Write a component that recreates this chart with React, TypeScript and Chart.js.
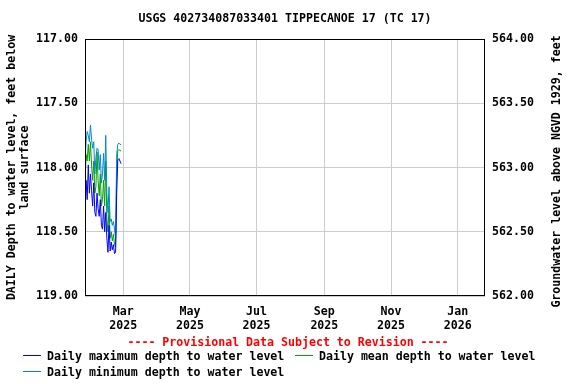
import React, { useEffect, useRef } from "react";
import { Chart, registerables } from "chart.js";

Chart.register(...registerables);

const startDate = "2025-01-25";
const endDate = "2026-01-26";

const dates = [
  "2025-01-25", "2025-01-26", "2025-01-27", "2025-01-28", "2025-01-29", "2025-01-30",
  "2025-01-31", "2025-02-01", "2025-02-02", "2025-02-03", "2025-02-04", "2025-02-05",
  "2025-02-06", "2025-02-07", "2025-02-08", "2025-02-09", "2025-02-10", "2025-02-11",
  "2025-02-12", "2025-02-13", "2025-02-14", "2025-02-15", "2025-02-16", "2025-02-17",
  "2025-02-18", "2025-02-19", "2025-02-20", "2025-02-21", "2025-02-22", "2025-02-23",
  "2025-02-24", "2025-02-25", "2025-02-26", "2025-02-27",
];

const dailyMax = [
  118.35, 118.1, 118.25, 117.98, 118.2, 118.05, 118.18, 118.3, 118.12, 118.35, 118.38, 118.2,
  118.32, 118.38, 118.25, 118.45, 118.48, 118.3, 118.5, 118.35, 118.55, 118.66, 118.45, 118.65,
  118.58, 118.64, 118.6, 118.67, 118.66, 118.2, 117.94, 117.93, 117.95, 117.97,
];

const dailyMean = [
  118.15, 117.9, 117.95, 117.82, 117.95, 117.8, 117.98, 118.1, 117.95, 118.2, 118.15, 117.88,
  118.1, 118.22, 118.05, 118.3, 118.25, 118.1, 118.3, 117.95, 118.4, 118.5, 118.3, 118.55,
  118.5, 118.57, 118.52, 118.6, 118.62, 118.0, 117.87, 117.86, 117.87, 117.87,
];

const dailyMin = [
  117.95, 117.8, 117.72, 117.75, 117.8, 117.67, 117.78, 117.85, 117.8, 118.05, 117.92, 117.85,
  117.86, 118.02, 117.9, 118.12, 118.05, 117.89, 118.1, 117.75, 118.2, 118.35, 118.15, 118.42,
  118.4, 118.45, 118.42, 118.48, 118.55, 117.9, 117.82, 117.81, 117.82, 117.82,
];

const tickDates = ["2025-03-01", "2025-05-01", "2025-07-01", "2025-09-01", "2025-11-01", "2026-01-01"];
const tickMonths = ["Mar", "May", "Jul", "Sep", "Nov", "Jan"];
const tickYears = ["2025", "2025", "2025", "2025", "2025", "2026"];

const depthMin = 117;
const depthMax = 119;
const elevMin = 562;
const elevMax = 564;

const titleText = "USGS 402734087033401 TIPPECANOE 17 (TC 17)";
const leftTitle1 = "DAILY Depth to water level, feet below";
const leftTitle2 = "land surface";
const rightTitle = "Groundwater level above NGVD 1929, feet";
const provisionalText = "---- Provisional Data Subject to Revision ----";
const legendLabels = [
  "Daily maximum depth to water level",
  "Daily mean depth to water level",
  "Daily minimum depth to water level",
];
const colorMax = "#0000ff";
const colorMean = "#00a000";
const colorMin = "#0088cc";

const FAMILY = "'DejaVu Sans Mono', monospace";
const FONT = "bold 11.6px " + FAMILY;

const dayOffset = (d: string) => (Date.parse(d) - Date.parse(startDate)) / 86400000;

export default function App() {
  const ref = useRef<HTMLCanvasElement | null>(null);

  useEffect(() => {
    document.body.style.margin = "0";
    const canvas = ref.current;
    if (!canvas) return;

    const xs = dates.map(dayOffset);
    const toPts = (arr: number[]) => arr.map((v, i) => ({ x: xs[i], y: v }));
    const tickVals = tickDates.map(dayOffset);

    const overlay = {
      id: "overlay",
      afterDraw(chart: any) {
        const ctx = chart.ctx as CanvasRenderingContext2D;
        const a = chart.chartArea;
        ctx.save();
        ctx.strokeStyle = "#000";
        ctx.lineWidth = 1;
        ctx.strokeRect(Math.round(a.left) + 0.5, Math.round(a.top) + 0.5, Math.round(a.right - a.left) - 1, Math.round(a.bottom - a.top) - 1);

        ctx.font = FONT;
        ctx.fillStyle = "#000";
        ctx.textBaseline = "middle";
        ctx.textAlign = "center";
        ctx.fillText(titleText, 285, 19);

        const cy = (a.top + a.bottom) / 2;
        ctx.save();
        ctx.translate(12, cy);
        ctx.rotate(-Math.PI / 2);
        ctx.fillText(leftTitle1, 0, 0);
        ctx.restore();
        ctx.save();
        ctx.translate(25, cy);
        ctx.rotate(-Math.PI / 2);
        ctx.fillText(leftTitle2, 0, 0);
        ctx.restore();
        ctx.save();
        ctx.translate(557, cy + 4);
        ctx.rotate(-Math.PI / 2);
        ctx.fillText(rightTitle, 0, 0);
        ctx.restore();

        ctx.fillStyle = "#ff0000";
        ctx.fillText(provisionalText, 288, 343);

        ctx.textAlign = "left";
        const items = [
          { x: 23, y: 357, c: colorMax, t: legendLabels[0] },
          { x: 295, y: 357, c: colorMean, t: legendLabels[1] },
          { x: 23, y: 373, c: colorMin, t: legendLabels[2] },
        ];
        for (const it of items) {
          ctx.fillStyle = it.c;
          ctx.fillRect(it.x, it.y - 2, 18, 1);
          ctx.fillStyle = "#000";
          ctx.fillText(it.t, it.x + 24, it.y);
        }
        ctx.restore();
      },
    };

    const tickFont = { family: FAMILY, size: 11.6, weight: "bold" };

    const chart = new Chart(canvas, {
      type: "line",
      data: {
        datasets: [
          { label: legendLabels[0], data: toPts(dailyMax), borderColor: colorMax, borderWidth: 1, pointRadius: 0, yAxisID: "y" },
          { label: legendLabels[2], data: toPts(dailyMin), borderColor: colorMin, borderWidth: 1, pointRadius: 0, yAxisID: "y" },
          { label: legendLabels[1], data: toPts(dailyMean), borderColor: colorMean, borderWidth: 1, pointRadius: 0, yAxisID: "y" },
        ],
      },
      options: {
        animation: false,
        responsive: false,
        devicePixelRatio: 1,
        layout: { padding: { top: 39, left: 0, right: 0, bottom: 0 } },
        plugins: { legend: { display: false }, tooltip: { enabled: false }, title: { display: false } },
        scales: {
          x: {
            type: "linear",
            min: 0,
            max: dayOffset(endDate),
            afterBuildTicks: (scale: any) => {
              scale.ticks = tickVals.map((v) => ({ value: v }));
            },
            afterFit: (scale: any) => {
              scale.height = 88;
            },
            ticks: {
              autoSkip: false,
              maxRotation: 0,
              padding: 9,
              color: "#000",
              font: tickFont,
              callback: (v: any) => {
                const i = tickVals.indexOf(Number(v));
                return i >= 0 ? [tickMonths[i], tickYears[i]] : "";
              },
            },
            grid: { color: "#cccccc", drawTicks: false },
            border: { display: false },
          },
          y: {
            type: "linear",
            position: "left",
            reverse: true,
            min: depthMin,
            max: depthMax,
            afterFit: (scale: any) => {
              scale.width = 85;
            },
            ticks: {
              stepSize: 0.5,
              padding: 7,
              color: "#000",
              font: tickFont,
              callback: (v: any) => Number(v).toFixed(2),
            },
            grid: { color: "#cccccc", drawTicks: false },
            border: { display: false },
          },
          y2: {
            type: "linear",
            position: "right",
            min: elevMin,
            max: elevMax,
            afterFit: (scale: any) => {
              scale.width = 91;
            },
            ticks: {
              stepSize: 0.5,
              padding: 7,
              color: "#000",
              font: tickFont,
              callback: (v: any) => Number(v).toFixed(2),
            },
            grid: { display: false, drawTicks: false },
            border: { display: false },
          },
        },
      },
      plugins: [overlay],
    } as any);

    return () => chart.destroy();
  }, []);

  return <canvas ref={ref} width={576} height={384} style={{ display: "block", width: 576, height: 384 }} />;
}
